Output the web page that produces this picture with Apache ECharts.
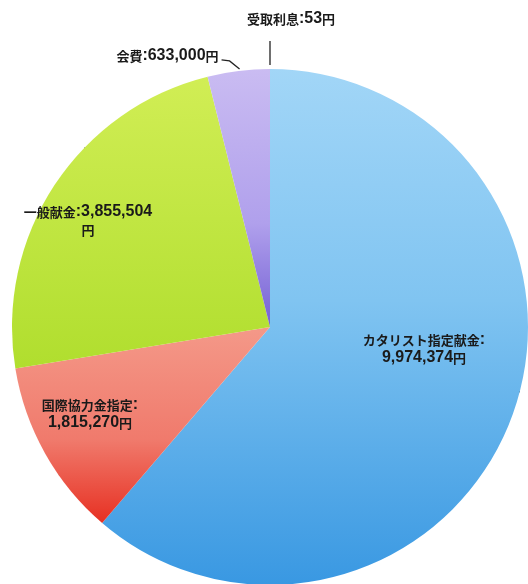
<!DOCTYPE html>
<html>
<head>
<meta charset="utf-8">
<script src="https://cdn.jsdelivr.net/npm/echarts@6/dist/echarts.min.js"></script>
<style>html,body{margin:0;padding:0;background:#fff}#c{width:528px;height:584px}</style>
</head>
<body>
<div id="c"></div>
<script>
const categories = ['カタリスト指定献金', '国際協力金指定', '一般献金', '会費', '受取利息'];
const values = [9974374, 1815270, 3855504, 633000, 53];
const unit = '円';

const G = echarts.graphic.LinearGradient;
const colors = [
  new G(0, 68, 0, 585, [{offset:0,color:'#a2d6f7'},{offset:0.45,color:'#80c4f1'},{offset:1,color:'#3998e2'}], true),
  new G(0, 330, 0, 530, [{offset:0,color:'#f49888'},{offset:0.55,color:'#f07a6c'},{offset:1,color:'#e62a1c'}], true),
  new G(0, 68, 0, 370, [{offset:0,color:'#d2ee56'},{offset:1,color:'#b0de2e'}], true),
  new G(0, 68, 0, 327, [{offset:0,color:'#cabcf2'},{offset:0.6,color:'#b0a0ec'},{offset:1,color:'#7460d4'}], true),
  '#9cd4f6'
];

function fmt(v){ return v.toLocaleString('en-US'); }

// label line-break style per slice
const breaks = ['afterName', 'afterName', 'beforeUnit', 'none', 'none'];

const labelPos = [
  {x: 424, y: 349}, {x: 90, y: 414}, {x: 88, y: 221}, null, {x: 291, y: 19}
];

const chart = echarts.init(document.getElementById('c'), null, {renderer:'canvas'});
chart.setOption({
  animation: false,
  series: [{
    type: 'pie',
    center: [270, 327],
    radius: 258,
    startAngle: 90,
    clockwise: true,
    avoidLabelOverlap: false,
    data: categories.map((n, i) => ({
      name: n, value: values[i],
      itemStyle: {color: colors[i]},
      label: {position: i < 3 ? 'inside' : 'outside'},
      labelLine: i === 4 ? {length: 28, length2: 0} : {length: 11, length2: 8}
    })),
    label: {
      color: '#1a1a1a',
      fontWeight: 'bold',
      lineHeight: 18,
      formatter: p => {
        const i = p.dataIndex;
        const num = fmt(p.value);
        if (breaks[i] === 'afterName') return '{c|' + p.name + '}{n|:}\n{n|' + num + '}{c|' + unit + '}';
        if (breaks[i] === 'beforeUnit') return '{c|' + p.name + '}{n|:' + num + '}\n{c|' + unit + '}';
        return '{c|' + p.name + '}{n|:' + num + '}{c|' + unit + '}';
      },
      rich: {
        c: {fontFamily: '"Noto Sans CJK JP"', fontSize: 13, fontWeight: 'bold', color: '#1a1a1a', lineHeight: 18},
        n: {fontFamily: '"Liberation Sans", Arial', fontSize: 16, fontWeight: 'bold', color: '#1a1a1a', lineHeight: 18}
      }
    },
    labelLine: {lineStyle: {color: '#222', width: 1.3}, smooth: false},
    labelLayout: function (params) {
      const i = params.dataIndex;
      const pts = params.labelLinePoints;
      if (i === 4) {
        const out = {x: labelPos[i].x, y: labelPos[i].y, align: 'center', verticalAlign: 'middle'};
        if (pts) out.labelLinePoints = [[pts[0][0], pts[0][1] - 4], [pts[0][0], pts[1][1]], [pts[0][0], pts[1][1]]];
        return out;
      }
      if (i === 3 && pts) {
        const e = pts[0];
        return {
          x: e[0] - 20, y: e[1] - 15, align: 'right', verticalAlign: 'middle',
          labelLinePoints: [[e[0] + 1, e[1] - 2], [e[0] - 9, e[1] - 10], [e[0] - 17, e[1] - 11]]
        };
      }
      if (labelPos[i]) return {x: labelPos[i].x, y: labelPos[i].y, align: 'center', verticalAlign: 'middle'};
      return {};
    },
    emphasis: {disabled: true}
  }]
});
</script>
</body>
</html>
